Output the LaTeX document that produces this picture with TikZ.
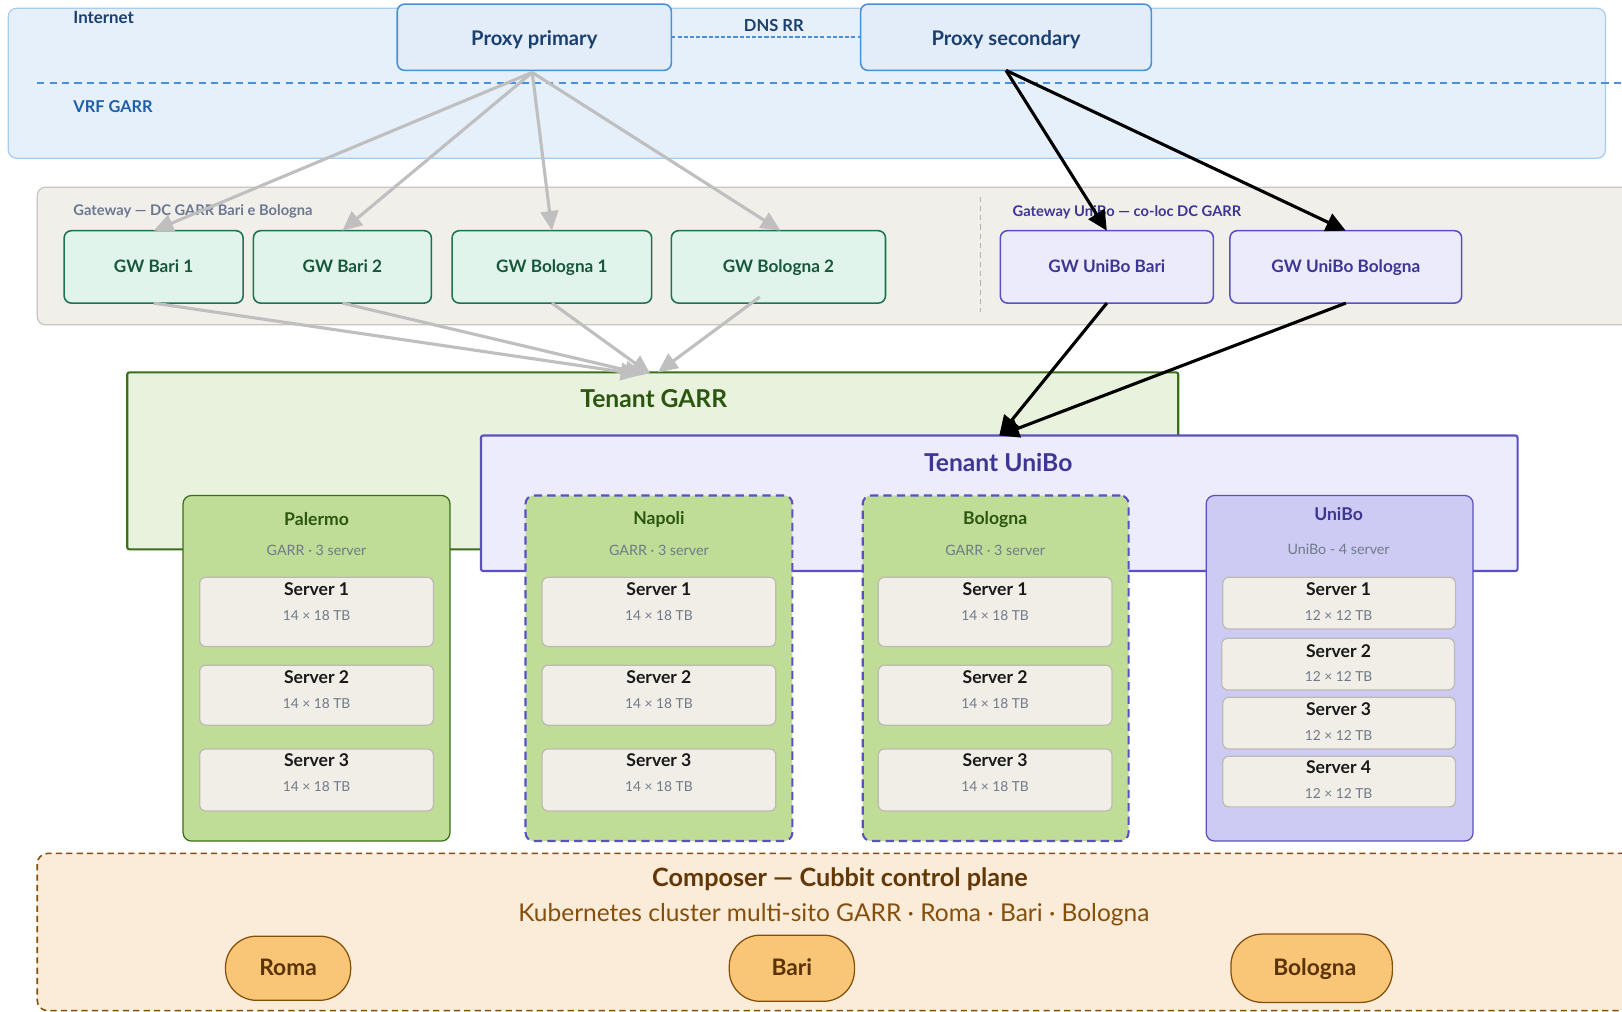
\documentclass[tikz,border=0pt]{standalone}
\usepackage{fontspec}
\setmainfont{Lato}
\usetikzlibrary{arrows.meta,calc}
\definecolor{cInetFill}{HTML}{E6F0FA}
\definecolor{cInetBorder}{HTML}{A8CCEE}
\definecolor{cBlue}{HTML}{4A90D9}
\definecolor{cProxyFill}{HTML}{E2EDF9}
\definecolor{cNavy}{HTML}{1B3F6E}
\definecolor{cVrf}{HTML}{1F5FA8}
\definecolor{cGwPanel}{HTML}{F1EFEA}
\definecolor{cGwPanelBorder}{HTML}{C9C6BF}
\definecolor{cGwLabel}{HTML}{6B7890}
\definecolor{cMint}{HTML}{E1F4EC}
\definecolor{cMintBorder}{HTML}{1D7350}
\definecolor{cMintText}{HTML}{17573C}
\definecolor{cLav}{HTML}{ECEBFB}
\definecolor{cPurple}{HTML}{5B50C2}
\definecolor{cPurpleText}{HTML}{3D3693}
\definecolor{cTgFill}{HTML}{E8F2DD}
\definecolor{cDarkGreen}{HTML}{3B6D1B}
\definecolor{cGreenText}{HTML}{2C5610}
\definecolor{cTuFill}{HTML}{EDECFC}
\definecolor{cSiteGreen}{HTML}{C0DD97}
\definecolor{cSiteLav}{HTML}{CDCBF4}
\definecolor{cServer}{HTML}{F1EEE8}
\definecolor{cServerBorder}{HTML}{BDBAB3}
\definecolor{cSub}{HTML}{707A88}
\definecolor{cCompFill}{HTML}{FAECD9}
\definecolor{cBrown}{HTML}{854F0B}
\definecolor{cBrownDark}{HTML}{633806}
\definecolor{cPill}{HTML}{F9C677}
\definecolor{cPillText}{HTML}{5A3306}
\definecolor{cGreyArrow}{HTML}{BFBFBF}
\newcommand{\fsz}[1]{\fontsize{#1}{#1}\selectfont}
\newcommand{\boxat}[6]{%
  \node[#1, minimum width={(#5)-(#3)}, minimum height={(#6)-(#4)}] (#2) at ({((#3)+(#5))/2},{((#4)+(#6))/2}) {};}
\begin{document}
\begin{tikzpicture}[x=1pt,y=-1pt,
  every node/.style={inner sep=0pt, outer sep=0pt},
  inetpanel/.style={fill=cInetFill, draw=cInetBorder, line width=1.2pt, rounded corners=8pt},
  proxybox/.style={fill=cProxyFill, draw=cBlue, line width=1.5pt, rounded corners=7pt},
  gwpanel/.style={fill=cGwPanel, draw=cGwPanelBorder, line width=1.2pt, rounded corners=8pt},
  gwgarr/.style={fill=cMint, draw=cMintBorder, line width=1.5pt, rounded corners=7pt},
  gwunibo/.style={fill=cLav, draw=cPurple, line width=1.5pt, rounded corners=7pt},
  tenantgarr/.style={fill=cTgFill, draw=cDarkGreen, line width=2pt, rounded corners=2pt},
  tenantunibo/.style={fill=cTuFill, draw=cPurple, line width=2pt, rounded corners=2pt},
  sitegarr/.style={fill=cSiteGreen, draw=cDarkGreen, line width=1.2pt, rounded corners=8pt},
  sitedash/.style={fill=cSiteGreen, draw=cPurple, line width=2pt, dash pattern=on 8pt off 5pt, rounded corners=8pt},
  siteunibo/.style={fill=cSiteLav, draw=cPurple, line width=1.2pt, rounded corners=8pt},
  serverbox/.style={fill=cServer, draw=cServerBorder, line width=1.2pt, rounded corners=6pt},
  composer/.style={fill=cCompFill, draw=cBrown, line width=1.5pt, dash pattern=on 6pt off 4pt, rounded corners=10pt},
  pill/.style={fill=cPill, draw=cBrown, line width=1.2pt, rounded corners=30pt},
  gwtext/.style={font=\bfseries\fsz{16.6}, text height=12pt, text depth=3pt},
  pilltext/.style={font=\bfseries\fsz{22}, text=cPillText, text height=16pt, text depth=4pt},
  sitetitle/.style={font=\bfseries\fsz{17}},
  subtext/.style={font=\fsz{13.8}, text=cSub},
  srvsub/.style={font=\fsz{13.3}, text=cSub},
  srvtitle/.style={font=\bfseries\fsz{17}, text=black!90},
  greyarrow/.style={draw=cGreyArrow, line width=3pt, -{Triangle[length=19pt,width=17pt]}},
  blackarrow/.style={draw=black, line width=3pt, -{Triangle[length=19pt,width=18pt]}},
]
\useasboundingbox (0,0) rectangle (1568,978);
\clip (0,0) rectangle (1568,978);
\fill[white] (0,0) rectangle (1568,978);

% ---------- Internet / VRF panel ----------
\boxat{inetpanel}{inet}{8}{8}{1552}{153}
\coordinate (dl1) at (36,80);
\coordinate (dl2) at (1575,80);
\draw[cBlue, line width=1.5pt, dash pattern=on 7pt off 5pt] (dl1) -- (dl2);
\node[anchor=west, font=\bfseries\fsz{16.3}, text=cNavy] (tinet) at (71,17) {Internet};
\node[anchor=west, font=\bfseries\fsz{15.8}, text=cVrf] (tvrf) at (71,103) {VRF GARR};

\boxat{proxybox}{pp}{384}{4}{649}{68}
\node[font=\bfseries\fsz{19.5}, text=cNavy] (tpp) at (516.5,38) {Proxy primary};
\boxat{proxybox}{ps}{832}{4}{1113}{68}
\node[font=\bfseries\fsz{19.5}, text=cNavy] (tps) at (972.5,38) {Proxy secondary};
\draw[cBlue, line width=1.6pt, dash pattern=on 4pt off 2pt] (pp.east) -- (ps.west);
\node[font=\bfseries\fsz{16}, text=cNavy] (tdns) at (748,25) {DNS RR};

% ---------- Gateway panel ----------
\boxat{gwpanel}{gwp}{36}{181}{1610}{314}
\coordinate (vd1) at (948,190);
\coordinate (vd2) at (948,302);
\draw[cGwPanelBorder!90!black, line width=1pt, dash pattern=on 5pt off 4pt] (vd1) -- (vd2);
\node[anchor=west, font=\bfseries\fsz{14.2}, text=cGwLabel] (tgw1) at (71,204) {Gateway — DC GARR Bari e Bologna};
\node[anchor=west, font=\bfseries\fsz{14.2}, text=cPurpleText] (tgw2) at (979,205) {Gateway UniBo — co-loc DC GARR};

\boxat{gwgarr}{gb1}{62}{223}{235}{293}
\node[gwtext, text=cMintText] at ($(gb1.center)+(0,1)$) {GW Bari 1};
\boxat{gwgarr}{gb2}{245}{223}{417}{293}
\node[gwtext, text=cMintText] at ($(gb2.center)+(0,1)$) {GW Bari 2};
\boxat{gwgarr}{gbo1}{437}{223}{630}{293}
\node[gwtext, text=cMintText] at ($(gbo1.center)+(0,1)$) {GW Bologna 1};
\boxat{gwgarr}{gbo2}{649}{223}{856}{293}
\node[gwtext, text=cMintText] at ($(gbo2.center)+(0,1)$) {GW Bologna 2};
\boxat{gwunibo}{gub}{967}{223}{1173}{293}
\node[gwtext, text=cPurpleText] at ($(gub.center)+(0,1)$) {GW UniBo Bari};
\boxat{gwunibo}{gubo}{1189}{223}{1413}{293}
\node[gwtext, text=cPurpleText] at ($(gubo.center)+(0,1)$) {GW UniBo Bologna};

% ---------- Tenants ----------
\boxat{tenantgarr}{tg}{123}{360}{1139}{531}
\node[font=\bfseries\fsz{23.8}, text=cGreenText] (ttg) at (632,385) {Tenant GARR};
\boxat{tenantunibo}{tu}{465}{421}{1467}{552}
\node[font=\bfseries\fsz{23.8}, text=cPurpleText] (ttu) at (965,447) {Tenant UniBo};

% ---------- Sites ----------
\boxat{sitegarr}{spa}{177}{479}{435}{813}
\node[sitetitle, text=cGreenText] at (306,502) {Palermo};
\node[subtext] at (306,532) {GARR · 3 server};
\boxat{sitedash}{sna}{508}{479}{766}{813}
\node[sitetitle, text=cGreenText] at (637,502) {Napoli};
\node[subtext] at (637,532) {GARR · 3 server};
\boxat{sitedash}{sbo}{834}{479}{1091}{813}
\node[sitetitle, text=cGreenText] at (962,502) {Bologna};
\node[subtext] at (962,532) {GARR · 3 server};
\boxat{siteunibo}{sun}{1166}{479}{1424}{813}
\node[sitetitle, text=cPurpleText] at (1294,497) {UniBo};
\node[subtext] at (1294,531) {UniBo - 4 server};

% GARR servers
\foreach \cx/\nm in {306/pa,637/na,962/bo}{
  \boxat{serverbox}{\nm s1}{\cx-113}{558}{\cx+113}{625}
  \node[srvtitle] at (\cx,570) {Server 1};
  \node[srvsub] at (\cx,595) {14 × 18 TB};
  \boxat{serverbox}{\nm s2}{\cx-113}{643}{\cx+113}{701}
  \node[srvtitle] at (\cx,655) {Server 2};
  \node[srvsub] at (\cx,680) {14 × 18 TB};
  \boxat{serverbox}{\nm s3}{\cx-113}{724}{\cx+113}{784}
  \node[srvtitle] at (\cx,735) {Server 3};
  \node[srvsub] at (\cx,760) {14 × 18 TB};
}
% UniBo servers
\boxat{serverbox}{un1}{1182}{558}{1407}{608}
\node[srvtitle] at (1294,570) {Server 1};
\node[srvsub] at (1294,595) {12 × 12 TB};
\boxat{serverbox}{un2}{1181}{617}{1406}{667}
\node[srvtitle] at (1294,629) {Server 2};
\node[srvsub] at (1294,654) {12 × 12 TB};
\boxat{serverbox}{un3}{1182}{674}{1407}{724}
\node[srvtitle] at (1294,686) {Server 3};
\node[srvsub] at (1294,711) {12 × 12 TB};
\boxat{serverbox}{un4}{1182}{731}{1407}{780}
\node[srvtitle] at (1294,742) {Server 4};
\node[srvsub] at (1294,767) {12 × 12 TB};

% ---------- Composer ----------
\boxat{composer}{comp}{36}{825}{1620}{977}
\node[font=\bfseries\fsz{24.4}, text=cBrownDark] (tcomp) at (812,850) {Composer — Cubbit control plane};
\node[font=\fsz{23.7}, text=cBrown] (tkub) at (806,884) {Kubernetes cluster multi-sito GARR · Roma · Bari · Bologna};
\boxat{pill}{proma}{218}{905}{339}{967}
\node[pilltext] at ($(proma.center)+(0,1)$) {Roma};
\boxat{pill}{pbari}{705}{904}{826}{968}
\node[pilltext] at ($(pbari.center)+(0,1)$) {Bari};
\boxat{pill}{pbol}{1190}{903}{1346}{969}
\node[pilltext] at ($(pbol.center)+(3,1)$) {Bologna};

% ---------- Connectors ----------
\coordinate (ppo) at ($(pp.south)+(-2,2)$);
\draw[greyarrow] (ppo) -- (gb1.north);
\draw[greyarrow] (ppo) -- (gb2.north);
\draw[greyarrow] (ppo) -- (gbo1.north);
\draw[greyarrow] (ppo) -- ($(gbo2.north)+(2,0)$);

\draw[greyarrow] (gb1.south) -- ($(tg.north)+(-12,2)$);
\draw[greyarrow] (gb2.south) -- ($(tg.north)+(-8,2)$);
\draw[greyarrow] (gbo1.south) -- ($(tg.north)+(-2,2)$);
\draw[greyarrow] ($(gbo2.south)+(-18,-6)$) -- ($(tg.north)+(5,0)$);

\draw[blackarrow] (ps.south) -- (gub.north);
\draw[blackarrow] (ps.south) -- (gubo.north);
\draw[blackarrow] (gub.south) -- (tu.north);
\draw[blackarrow] (gubo.south) -- (tu.north);
\end{tikzpicture}
\end{document}
